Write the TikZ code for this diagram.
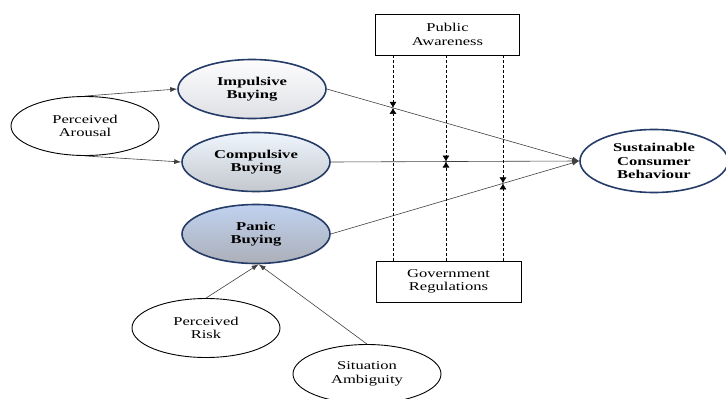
\documentclass[tikz,border=0pt]{standalone}
\usepackage{fontspec}
\setmainfont{Liberation Serif}[FakeStretch=1.38]
\usepackage{tikz}
\usetikzlibrary{arrows.meta, shapes.geometric}

\definecolor{ringblue}{RGB}{38,60,104}
\definecolor{impA}{RGB}{253,253,254}
\definecolor{impB}{RGB}{222,224,228}
\definecolor{comA}{RGB}{238,245,253}
\definecolor{comB}{RGB}{196,200,206}
\definecolor{panA}{RGB}{192,210,240}
\definecolor{panM}{RGB}{184,200,226}
\definecolor{panB}{RGB}{172,175,184}

\begin{document}
\begin{tikzpicture}[x=1pt,y=-1pt]
        \tikzset{factor/.style = {shape=ellipse,draw,line width=0.9pt,minimum width=148pt,minimum height=59pt,inner sep=0pt,align=center,font=\fontsize{12}{13.5}\selectfont}}
        \tikzset{construct/.style = {factor,draw=ringblue,line width=1.6pt,font=\fontsize{12}{13.5}\selectfont\bfseries}}
        \tikzset{moderator/.style = {shape=rectangle,draw,line width=0.9pt,minimum width=144pt,minimum height=41pt,inner sep=0pt,align=center,font=\fontsize{12}{13.5}\selectfont}}
        \tikzset{edge/.style = {-,> = {Latex[length=7pt,width=5pt]},draw=black!75,line width=0.6pt}}
        \tikzset{link/.style = {-,> = {Latex[length=6pt,width=7pt]},dash pattern=on 3pt off 2pt,line width=0.6pt}}
        \useasboundingbox (0,0) rectangle (726,399);

        \node[factor] (1) at (85,126) {Perceived\\Arousal};
        \node[construct, top color=impA, bottom color=impB] (2) at (252,89) {Impulsive\\Buying};
        \node[construct, top color=comA, bottom color=comB] (3) at (256,162) {Compulsive\\Buying};
        \node[construct, top color=panA, middle color=panM, bottom color=panB] (4) at (256,234) {Panic\\Buying};
        \node[factor] (5) at (206,328) {Perceived\\Risk};
        \node[factor] (6) at (367,374) {Situation\\Ambiguity};
        \node[construct, fill=white, minimum height=63pt] (7) at (654,161) {Sustainable\\Consumer\\Behaviour};
        \node[moderator] (8) at (447.5,34.5) {Public\\Awareness};
        \node[moderator, minimum width=145pt] (9) at (448.5,281.5) {Government\\Regulations};

        \draw[edge,->] (1.north) to (2.west);
        \draw[edge,->] (1.south) to (3.west);
        \draw[edge,->] (5.north) to (4.-85);
        \draw[edge,->] (6.north) to (4.-85);
        \draw[edge,->] (2.east) to (7.west);
        \draw[edge,->] (3.east) to (7.west);
        \draw[edge,->] (4.east) to (7.west);

        % moderating paths
        \coordinate (m1) at (intersection of 2.east--7.west and 393,0--393,10);
        \coordinate (m2) at (intersection of 3.east--7.west and 446,0--446,10);
        \coordinate (m3) at (intersection of 4.east--7.west and 503,0--503,10);
        \foreach \m in {m1,m2,m3} {
          \draw[link,->] (8.south -| \m) to (\m);
          \draw[link,->] (9.north -| \m) to (\m);
        }
      \end{tikzpicture}
\end{document}
